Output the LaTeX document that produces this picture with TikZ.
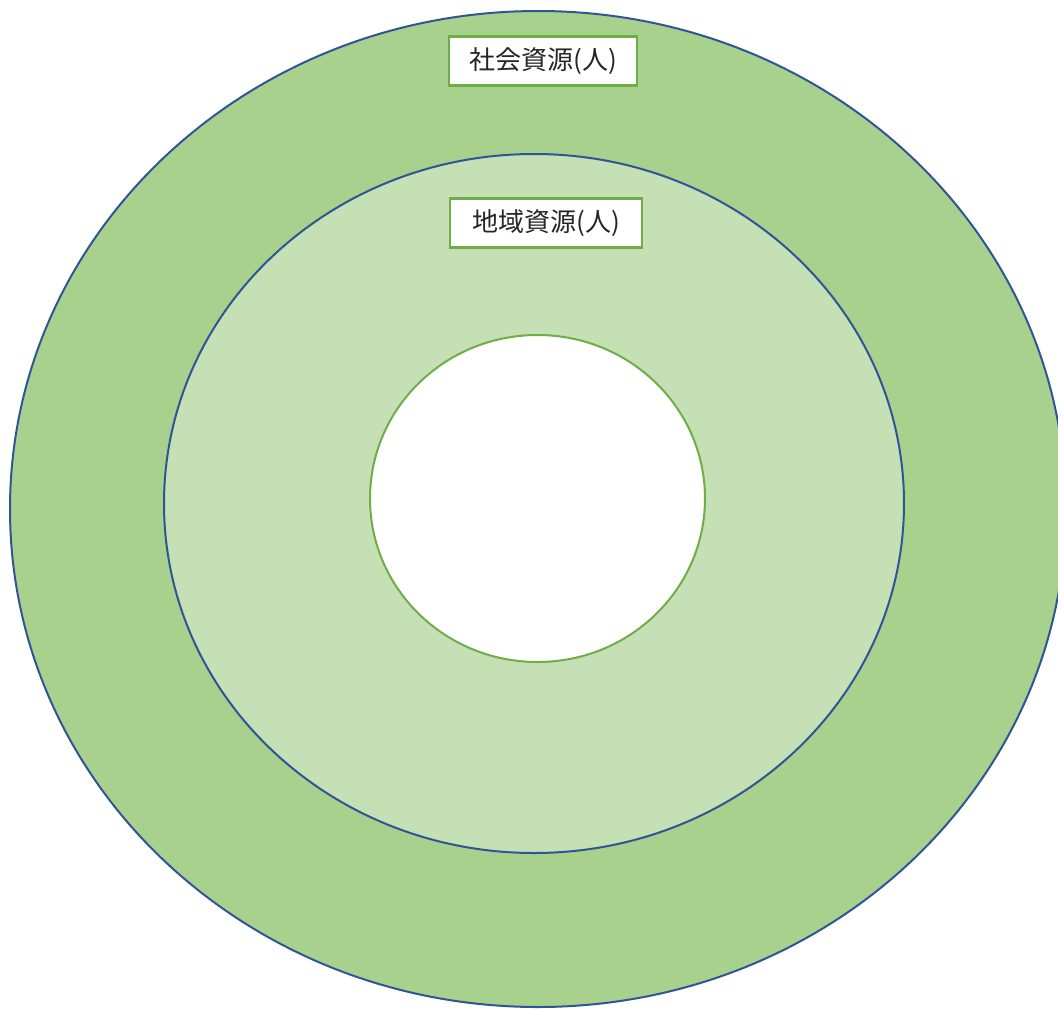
\documentclass[tikz,border=0pt]{standalone}
\usepackage{fontspec}
\newfontfamily\jpfont{Noto Sans CJK JP}

\definecolor{outergreen}{HTML}{A9D18E}
\definecolor{innergreen}{HTML}{C5E0B4}
\definecolor{ringblue}{HTML}{2F5597}
\definecolor{tagborder}{HTML}{70AD47}

\tikzset{
  ring/.style={draw=ringblue, line width=1.5pt},
  tag/.style={draw=tagborder, line width=1.8pt, fill=white,
    minimum width=141pt, minimum height=37pt, inner sep=0pt,
    text=black!85, font=\jpfont\fontsize{19.5}{22}\selectfont}
}

\begin{document}
\begin{tikzpicture}[x=0.75pt,y=-0.75pt]
    \useasboundingbox (0,0) rectangle (1058,1008);
    \draw[ring, fill=outergreen] (538,509) ellipse [x radius=528, y radius=498];
    \draw[ring, fill=innergreen] (534,503.5) ellipse [x radius=370, y radius=349.5];
    \draw[draw=tagborder, line width=1.5pt, fill=white] (537.5,498.5) ellipse [x radius=167.5, y radius=163.5];
    \node[tag] (social) at (543,61) {社会資源(人)};
    \node[tag, minimum width=144pt] (local) at (546,223) {地域資源(人)};
  \end{tikzpicture}
\end{document}
